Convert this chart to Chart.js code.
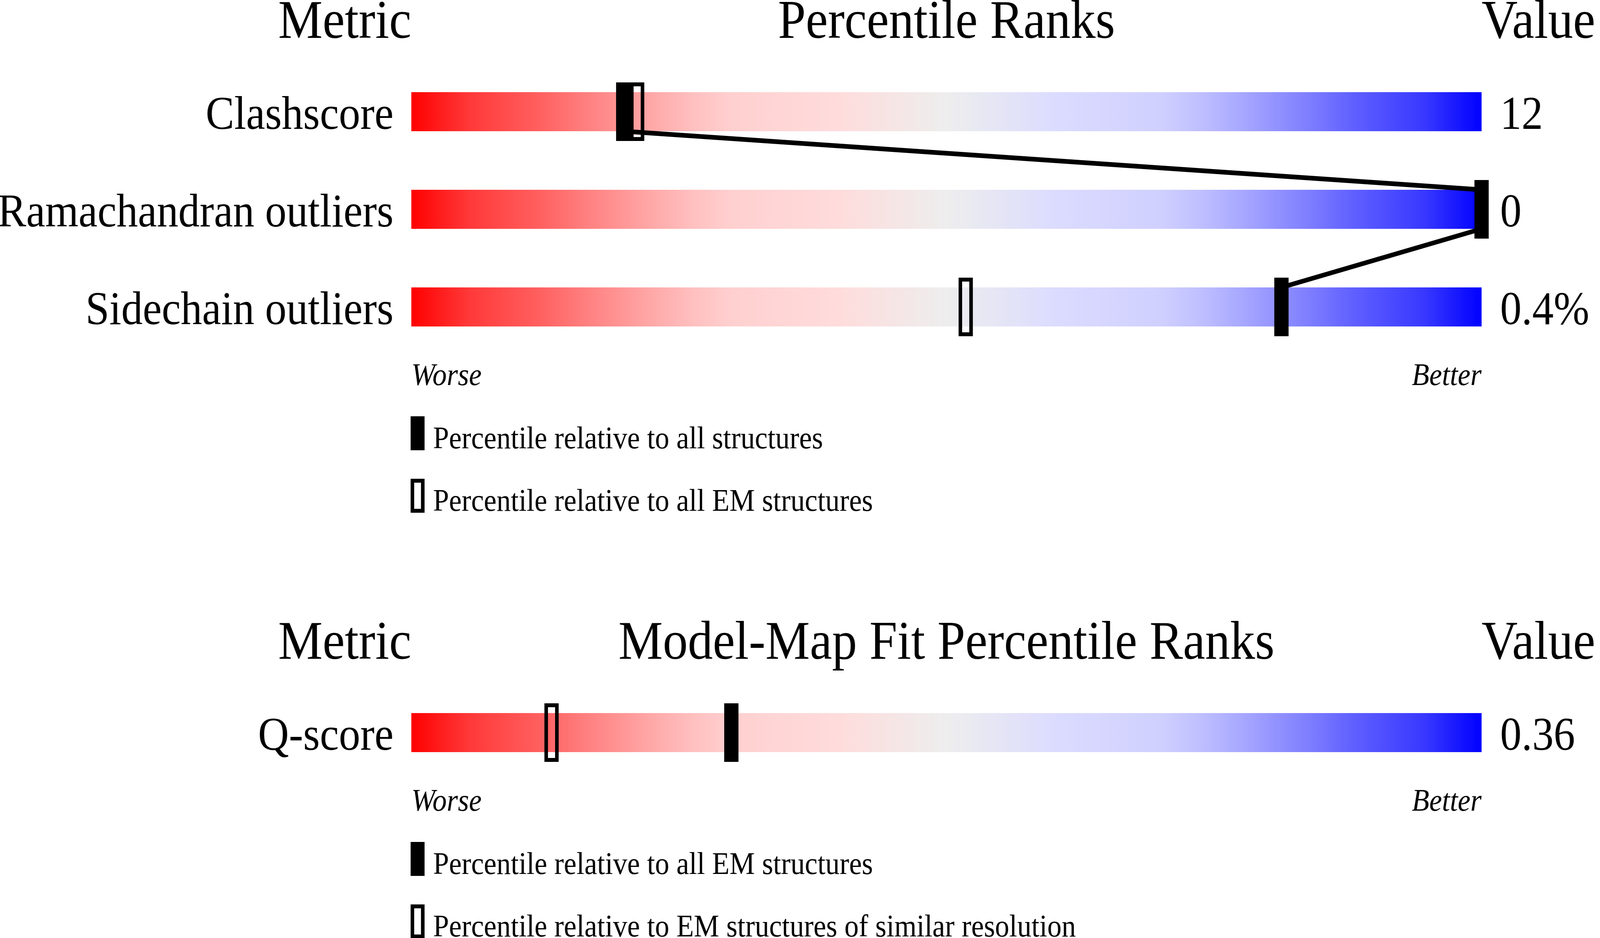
<!DOCTYPE html>
<html>
<head>
<meta charset="utf-8">
<script src="https://cdn.jsdelivr.net/npm/chart.js@4.4.1/dist/chart.umd.min.js"></script>
<style>
  html, body { margin: 0; padding: 0; background: #fff; overflow: hidden; }
  canvas { display: block; }
</style>
</head>
<body>
<canvas id="qualityChart" width="4485" height="1400"></canvas>
<canvas id="fitChart" width="4485" height="1002"></canvas>
<script>
const FONT = '"Liberation Serif", "Times New Roman", serif';

// geometry quality panel
const QUALITY_METRICS = ['Clashscore', 'Ramachandran outliers', 'Sidechain outliers'];
const QUALITY_VALUES = ['12', '0', '0.4%'];
const QUALITY_PCT_ALL = [19.8, 100, 81.3];   // filled markers
const QUALITY_PCT_EM = [21.1, 100, 51.8];    // hollow markers
const QUALITY_HEADERS = ['Metric', 'Percentile Ranks', 'Value'];
const QUALITY_LEGEND = ['Percentile relative to all structures', 'Percentile relative to all EM structures'];

// model-map fit panel
const FIT_METRICS = ['Q-score'];
const FIT_VALUES = ['0.36'];
const FIT_PCT_EM = [29.9];                   // filled markers
const FIT_PCT_RES = [13.1];                  // hollow markers
const FIT_HEADERS = ['Metric', 'Model-Map Fit Percentile Ranks', 'Value'];
const FIT_LEGEND = ['Percentile relative to all EM structures', 'Percentile relative to EM structures of similar resolution'];

const SCALE_ENDS = ['Worse', 'Better'];

const GRADIENT = [
  [0, '#ff0000'], [0.053, '#ff3838'], [0.12, '#ff6060'], [0.164, '#ff8080'],
  [0.224, '#ffa8a8'], [0.264, '#ffc0c0'], [0.3, '#ffd0d0'], [0.4, '#ffdcdc'],
  [0.5, '#eeeeee'],
  [0.6, '#dcdcff'], [0.7, '#d0d0ff'], [0.736, '#c0c0ff'], [0.776, '#a8a8ff'],
  [0.836, '#8080ff'], [0.88, '#6060ff'], [0.947, '#3838ff'], [1, '#0000ff']
];

const BAR_FRACTION = 0.4; // bar height as part of one row
const PAGE_W = 4485;
const PAGE_H = 2402;

// drawing buffers keep the 4485x2402 layout, the css boxes fill the viewport
document.querySelectorAll('canvas').forEach(c => {
  c.style.width = `${window.innerWidth}px`;
  c.style.height = `${c.height * window.innerHeight / PAGE_H}px`;
});

function markerImage(w, h, hollow) {
  const c = document.createElement('canvas');
  c.width = w;
  c.height = h;
  const g = c.getContext('2d');
  if (hollow) {
    g.lineWidth = 10;
    g.strokeStyle = '#000';
    g.strokeRect(5, 5, w - 10, h - 10);
  } else {
    g.fillStyle = '#000';
    g.fillRect(0, 0, w, h);
  }
  return c;
}

const FILLED = markerImage(40, 150, false);
const HOLLOW = markerImage(40, 150, true);
const FILLED_KEY = markerImage(39, 87, false);
const HOLLOW_KEY = markerImage(39, 87, true);

function barGradient(ctx) {
  const area = ctx.chart.chartArea;
  if (!area) return '#eeeeee';
  const grad = ctx.chart.ctx.createLinearGradient(area.left, 0, area.right, 0);
  GRADIENT.forEach(([stop, col]) => grad.addColorStop(stop, col));
  return grad;
}

const panelText = {
  id: 'panelText',
  afterDraw(chart, args, o) {
    const { ctx, chartArea: a } = chart;
    ctx.save();
    ctx.fillStyle = '#000';
    ctx.textBaseline = 'alphabetic';
    ctx.font = `140px ${FONT}`;
    const y = a.top - 64;
    ctx.textAlign = 'right';
    ctx.fillText(o.headers[0], a.left, y);
    ctx.textAlign = 'center';
    ctx.fillText(o.headers[1], (a.left + a.right) / 2, y);
    ctx.textAlign = 'left';
    ctx.fillText(o.headers[2], a.right, y);

    ctx.font = `80px ${FONT}`;
    o.legend.forEach((text, i) => {
      const base = a.bottom + 237 + i * 160;
      ctx.drawImage(i === 0 ? FILLED_KEY : HOLLOW_KEY, a.left - 2, base - 82);
      ctx.fillText(text, a.left + 61, base);
    });
    ctx.restore();
  }
};

function rowAxis(rows, labels, position, width, padding) {
  return {
    type: 'linear',
    position,
    reverse: true,
    min: -0.5,
    max: rows.length - 0.5,
    offset: false,
    grid: { display: false, drawTicks: false, tickLength: 0, offset: false },
    border: { display: false },
    afterBuildTicks: ax => { ax.ticks = rows.map(v => ({ value: v })); },
    afterFit: ax => { ax.width = width; },
    ticks: {
      autoSkip: false,
      color: '#000',
      padding,
      labelOffset: 12,
      font: { family: FONT, size: 120 },
      callback: v => labels[v]
    }
  };
}

function buildPanel(id, p) {
  const rows = p.metrics.map((_, i) => i);
  const half = BAR_FRACTION / 2;

  // connector from bottom of one bar to top of the next, through filled markers
  const links = [];
  p.filled.forEach((v, i) => {
    if (i > 0) links.push({ x: v, y: i - half });
    if (i < p.filled.length - 1) links.push({ x: v, y: i + half });
  });

  return new Chart(document.getElementById(id), {
    type: 'bar',
    data: {
      datasets: [
        {
          type: 'bar',
          indexAxis: 'y',
          data: rows.map(i => ({ x: [0, 100], y: i })),
          backgroundColor: barGradient,
          borderWidth: 0,
          barPercentage: BAR_FRACTION,
          categoryPercentage: 1,
          order: 4,
          clip: false
        },
        {
          type: 'line',
          data: links,
          borderColor: '#000',
          borderWidth: 12,
          pointRadius: 0,
          fill: false,
          tension: 0,
          order: 3,
          clip: false
        },
        {
          type: 'scatter',
          data: p.hollow.map((v, i) => ({ x: v, y: i })),
          pointStyle: HOLLOW,
          order: 2,
          clip: false
        },
        {
          type: 'scatter',
          data: p.filled.map((v, i) => ({ x: v, y: i })),
          pointStyle: FILLED,
          order: 1,
          clip: false
        }
      ]
    },
    options: {
      responsive: false,
      animation: false,
      devicePixelRatio: 1,
      events: [],
      layout: { padding: { top: p.padTop, left: 0, right: 0, bottom: 0 } },
      scales: {
        x: {
          type: 'linear',
          position: 'bottom',
          min: 0,
          max: 100,
          offset: false,
          grid: { display: false, drawTicks: false, tickLength: 0, offset: false },
          border: { display: false },
          afterBuildTicks: ax => { ax.ticks = [{ value: 0 }, { value: 100 }]; },
          afterFit: ax => { ax.height = p.axisHeight; },
          ticks: {
            autoSkip: false,
            maxRotation: 0,
            align: 'inner',
            color: '#000',
            padding: 14,
            font: { family: FONT, size: 80, style: 'italic', lineHeight: 1 },
            callback: (v, i) => SCALE_ENDS[i]
          }
        },
        y: rowAxis(rows, p.metrics, 'left', 1153, 50),
        yv: rowAxis(rows, p.values, 'right', PAGE_W - 4153, 52)
      },
      plugins: {
        legend: { display: false },
        tooltip: { enabled: false },
        panelText: { headers: p.headers, legend: p.legend }
      }
    },
    plugins: [panelText]
  });
}

buildPanel('qualityChart', {
  metrics: QUALITY_METRICS,
  values: QUALITY_VALUES,
  filled: QUALITY_PCT_ALL,
  hollow: QUALITY_PCT_EM,
  headers: QUALITY_HEADERS,
  legend: QUALITY_LEGEND,
  padTop: 161,
  axisHeight: 489
});

buildPanel('fitChart', {
  metrics: FIT_METRICS,
  values: FIT_VALUES,
  filled: FIT_PCT_EM,
  hollow: FIT_PCT_RES,
  headers: FIT_HEADERS,
  legend: FIT_LEGEND,
  padTop: 351,
  axisHeight: 401
});
</script>
</body>
</html>
